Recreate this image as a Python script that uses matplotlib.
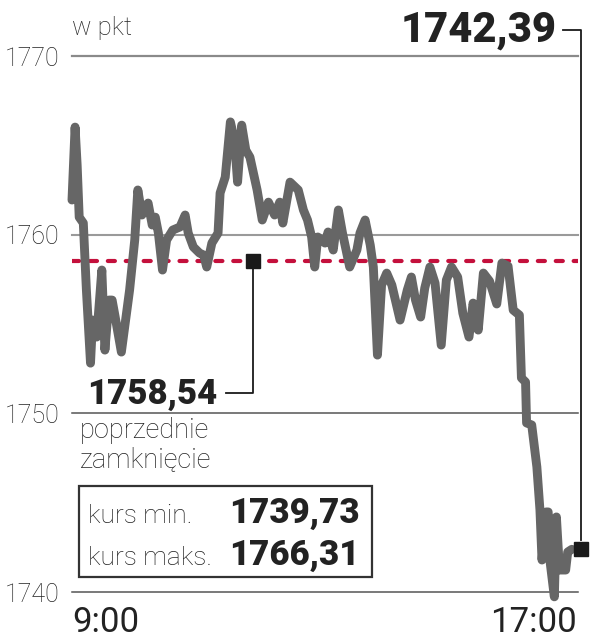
import matplotlib
matplotlib.use("Agg")
import matplotlib.pyplot as plt
from matplotlib.patches import Rectangle
from matplotlib.lines import Line2D

# ---- data (minutes after 9:00, index value in pkt) ----
minutes = [0, 3, 5, 7, 11, 14, 18, 20, 24, 29, 32, 36, 39, 42, 48, 56, 61, 64, 68, 71,
           74, 78, 81, 84, 88, 92, 98, 105, 110, 113, 118, 124, 128, 131, 136, 142, 144,
           149, 154, 158, 161, 165, 169, 173, 180, 185, 191, 197, 202, 205, 212, 220, 225,
           229, 233, 236, 239, 246, 249, 254, 259, 263, 270, 277, 280, 285, 290, 293, 297,
           301, 306, 311, 319, 326, 330, 334, 339, 343, 348, 353, 359, 364, 369, 375, 380,
           386, 390, 395, 400, 406, 413, 418, 424, 429, 435, 437, 441, 442, 447, 452, 455,
           457, 461, 463, 465, 469, 471, 474, 480, 482, 486]
values = [1761.94, 1766.02, 1763.90, 1760.98, 1760.65, 1756.90, 1752.81, 1755.22, 1754.27,
          1758.02, 1753.54, 1756.34, 1756.34, 1755.39, 1753.43, 1756.90, 1759.70, 1762.50,
          1761.10, 1761.54, 1761.77, 1760.54, 1760.98, 1760.09, 1758.02, 1759.70, 1760.26,
          1760.43, 1761.10, 1760.09, 1759.31, 1758.97, 1758.86, 1758.19, 1759.53, 1760.09,
          1762.33, 1763.22, 1766.31, 1765.29, 1762.94, 1766.13, 1764.73, 1764.34, 1762.50,
          1760.82, 1761.82, 1761.10, 1761.82, 1760.65, 1762.94, 1762.50, 1761.38, 1760.82,
          1759.87, 1758.19, 1759.87, 1759.53, 1760.15, 1759.14, 1761.38, 1760.09, 1758.19,
          1759.14, 1760.09, 1760.82, 1759.42, 1758.19, 1753.26, 1757.18, 1757.85, 1757.18,
          1755.22, 1756.90, 1757.63, 1756.34, 1755.39, 1757.01, 1758.19, 1757.29, 1753.82,
          1757.46, 1758.19, 1757.63, 1755.61, 1754.27, 1756.17, 1754.66, 1757.85, 1757.40,
          1756.12, 1758.41, 1758.24, 1755.78, 1755.50, 1751.98, 1751.75, 1749.46, 1749.35,
          1747.00, 1744.59, 1741.79, 1744.48, 1744.48, 1741.62, 1739.73, 1744.20, 1741.23,
          1741.23, 1742.24, 1742.39]
prev_close = 1758.54
last_value = 1742.39
min_value = 1739.73
max_value = 1766.31
y_ticks = [1740, 1750, 1760, 1770]
x_labels = ["9:00", "17:00"]
unit_label = "w pkt"

def fmt(v):
    return f"{v:.2f}".replace(".", ",")

W, H = 593, 640
fig = plt.figure(figsize=(W / 100, H / 100), dpi=100)
fig.patch.set_facecolor("white")

def P(x, y):
    return (x / W, 1 - y / H)

left, right, top, bottom = 72, 578, 56, 592
ax = fig.add_axes([left / W, 1 - bottom / H, (right - left) / W, (bottom - top) / H])
ax.set_xlim(0, 492)
ax.set_ylim(1740, 1770)
for s in ax.spines.values():
    s.set_visible(False)
ax.set_xticks([])
ax.set_yticks(y_ticks)
ax.set_yticklabels([str(t) for t in y_ticks], fontsize=18, fontfamily="Roboto",
                   fontweight="light", color="#222222")
ax.tick_params(axis="y", length=0, pad=9)

grid_colors = {1740: "#555555", 1750: "#555555", 1760: "#9a9a9a", 1770: "#8a8a8a"}
grid_lw = {1740: 1.1, 1750: 1.1, 1760: 1.5, 1770: 1.6}
for t in y_ticks:
    ax.axhline(t, color=grid_colors[t], lw=grid_lw[t], zorder=1, clip_on=False)

# previous close dashed line
ax.axhline(prev_close, color="#c4103c", lw=3.0, ls=(0, (1.7, 2.6)),
           dash_capstyle="round", zorder=2)

# main series
ax.plot(minutes, values, color="#666666", lw=6.4, solid_joinstyle="round",
        solid_capstyle="round", zorder=3, clip_on=False)

# markers
prev_marker_t = 176
ax.plot([prev_marker_t], [prev_close], marker="s", ms=9.5, color="#1a1a1a",
        zorder=5, clip_on=False)
end_marker_t = minutes[-1] + 9
ax.plot([end_marker_t], [last_value], marker="s", ms=9.5, color="#1a1a1a",
        zorder=5, clip_on=False)

# connector lines (figure pixel space)
def fig_line(xs, ys, **kw):
    pts = [P(x, y) for x, y in zip(xs, ys)]
    fig.add_artist(Line2D([p[0] for p in pts], [p[1] for p in pts],
                          transform=fig.transFigure, color="#1a1a1a", lw=1.3, **kw))

fig_line([563, 581, 581], [30, 30, 540])
fig_line([226, 253, 253], [393, 393, 266])

# texts
txt_c = "#222222"
fig.text(*P(72, 35), unit_label, fontsize=18.5, fontfamily="Roboto", fontweight="light",
         color="#222222", va="baseline", ha="left")
fig.text(*P(557, 42), fmt(last_value), fontsize=30, fontfamily="Roboto",
         fontweight="black", color=txt_c, va="baseline", ha="right")
fig.text(*P(217, 404), fmt(prev_close), fontsize=25, fontfamily="Roboto",
         fontweight="black", color=txt_c, va="baseline", ha="right")
fig.text(*P(80, 438), "poprzednie", fontsize=19.5, fontfamily="Roboto",
         fontweight="light", color="#222222", va="baseline", ha="left")
fig.text(*P(80, 467), "zamknięcie", fontsize=19.5, fontfamily="Roboto",
         fontweight="light", color="#222222", va="baseline", ha="left")

fig.add_artist(Rectangle(P(79, 577), (372 - 79) / W, (577 - 486) / H,
                         transform=fig.transFigure, fill=False, ec="#333333", lw=1.6))
fig.text(*P(88, 523), "kurs min.", fontsize=19, fontfamily="Roboto",
         fontweight="light", color="#222222", va="baseline", ha="left")
fig.text(*P(360, 523), fmt(min_value), fontsize=25, fontfamily="Roboto",
         fontweight="black", color=txt_c, va="baseline", ha="right")
fig.text(*P(88, 565), "kurs maks.", fontsize=19, fontfamily="Roboto",
         fontweight="light", color="#222222", va="baseline", ha="left")
fig.text(*P(360, 565), fmt(max_value), fontsize=25, fontfamily="Roboto",
         fontweight="black", color=txt_c, va="baseline", ha="right")

fig.text(*P(72, 632), x_labels[0], fontsize=25, fontfamily="Roboto",
         color=txt_c, va="baseline", ha="left")
fig.text(*P(577, 632), x_labels[1], fontsize=25, fontfamily="Roboto",
         color=txt_c, va="baseline", ha="right")

fig.savefig("out.png", dpi=100, facecolor="white")
